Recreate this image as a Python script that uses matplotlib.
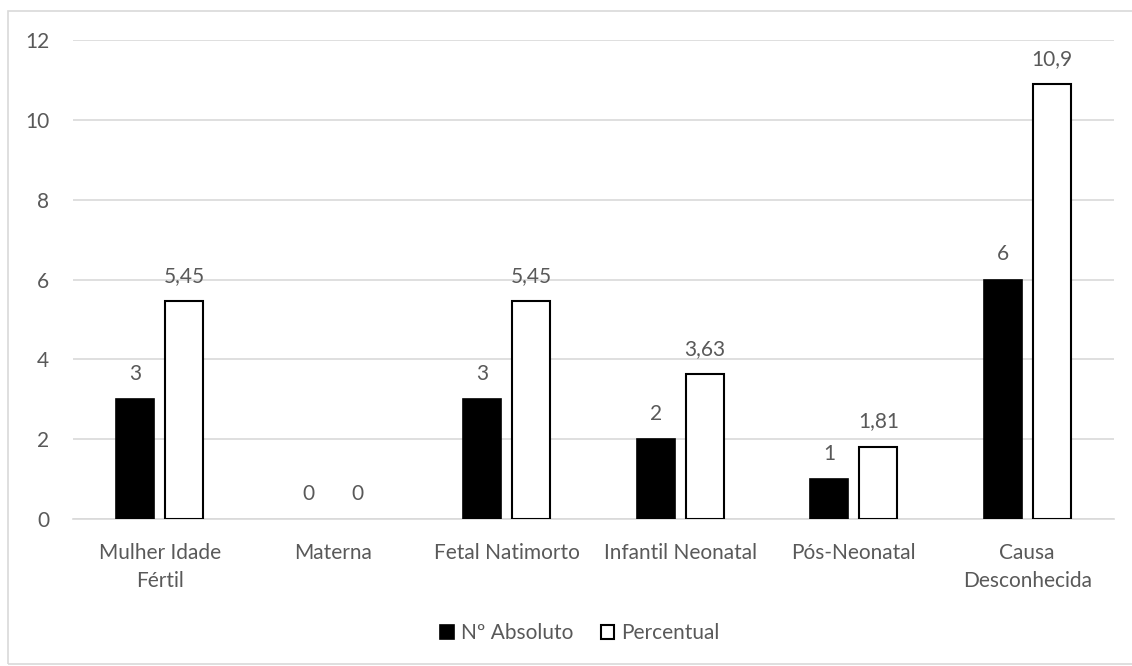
import numpy as np
import matplotlib.pyplot as plt
from matplotlib.patches import Rectangle

plt.rcParams['font.family'] = ['Lato', 'DejaVu Sans']

# DATA
categorias = ['Mulher Idade\nFértil', 'Materna', 'Fetal Natimorto',
              'Infantil Neonatal', 'Pós-Neonatal', 'Causa\nDesconhecida']
absoluto = [3, 0, 3, 2, 1, 6]
percentual = [5.45, 0, 5.45, 3.63, 1.81, 10.9]
rotulos_abs = ['3', '0', '3', '2', '1', '6']
rotulos_pct = ['5,45', '0', '5,45', '3,63', '1,81', '10,9']

cinza = '#595959'
fs = 15

fig = plt.figure(figsize=(11.32, 6.66), dpi=100)
ax = fig.add_axes([73 / 1132, 1 - 519 / 666, (1114 - 73) / 1132, (519 - 40) / 666])

# border round the chart
fig.patches.append(Rectangle((8 / 1132, 2 / 666), 1.2, (655 - 2) / 666,
                             transform=fig.transFigure, fill=False,
                             edgecolor='#d9d9d9', lw=1.2))

x = np.arange(len(categorias))
width = 0.22
off = 0.142
b1 = ax.bar(x - off, absoluto, width, color='black', edgecolor='black',
            lw=1.2, label='Nº Absoluto', zorder=3)
b2 = ax.bar(x + off, percentual, width, color='white', edgecolor='black',
            lw=1.5, label='Percentual', zorder=3)
# zero bars draw nothing
for r in list(b1) + list(b2):
    if r.get_height() == 0:
        r.set_linewidth(0)
ax.bar_label(b1, labels=rotulos_abs, padding=11, fontsize=fs, color=cinza)
ax.bar_label(b2, labels=rotulos_pct, padding=11, fontsize=fs, color=cinza)

ax.set_xlim(-0.5, len(categorias) - 0.5)
ax.set_ylim(0, 12)
ax.set_yticks(range(0, 13, 2))
ax.set_xticks(x, categorias, linespacing=1.5)
ax.yaxis.grid(True, color='#d9d9d9', lw=1.2, zorder=0)
ax.set_axisbelow(True)
for s in ['top', 'right', 'left']:
    ax.spines[s].set_visible(False)
ax.spines['bottom'].set_color('#d9d9d9')
ax.spines['bottom'].set_linewidth(1.2)
ax.tick_params(axis='both', length=0, labelsize=fs, labelcolor=cinza)
ax.tick_params(axis='y', pad=17)
ax.tick_params(axis='x', pad=17)

ax.legend(loc='center', bbox_to_anchor=((580 - 73) / 1041, -(633 - 519) / 479),
          ncol=2, frameon=False, fontsize=fs, labelcolor=cinza,
          handlelength=0.65, handleheight=0.65, handletextpad=0.35,
          columnspacing=1.3)

plt.savefig('out.png')
